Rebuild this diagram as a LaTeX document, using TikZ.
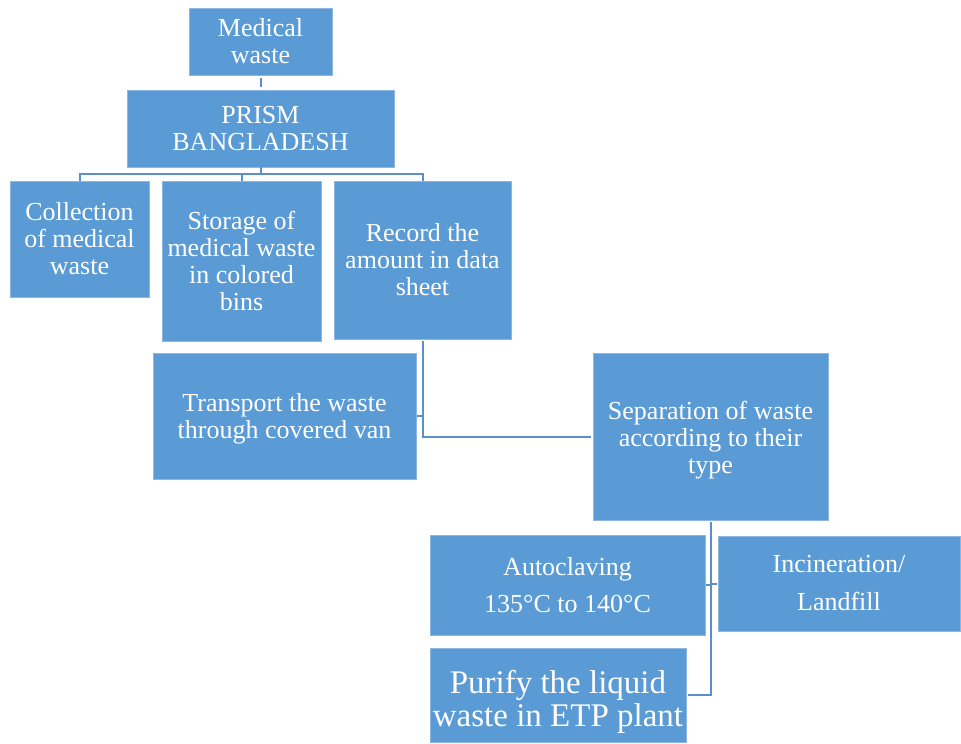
\documentclass[tikz,border=0pt]{standalone}
\usepackage{fontspec}
\setmainfont{Liberation Serif}
\usetikzlibrary{calc}
\definecolor{boxblue}{HTML}{5B9BD5}
\definecolor{boxedge}{HTML}{8DB6E2}
\definecolor{linkblue}{HTML}{5B8FCA}
\tikzset{
  wbox/.style={rectangle, fill=boxblue, draw=boxedge, line width=0.6pt, inner sep=0pt,
    text=white, align=center, font=\fontsize{26}{27}\selectfont},
  wtext/.style={inner sep=0pt, text=white, align=center, font=\fontsize{26}{27}\selectfont},
  link/.style={draw=linkblue, line width=2pt},
}
\begin{document}
\begin{tikzpicture}[x=1pt,y=-1pt]
\useasboundingbox (0,0) rectangle (961,744);
\node[wbox, minimum width=143pt, minimum height=67pt] (mw) at (260.5,41.5) {Medical\\waste};
\node[wbox, minimum width=267pt, minimum height=77pt] (prism) at (260.5,128.5) {PRISM\\BANGLADESH};
\node[wbox, minimum width=139pt, minimum height=116pt] (coll) at (79.5,239) {Collection\\of medical\\waste};
\node[wbox, minimum width=159pt, minimum height=160pt] (stor) at (241.5,261) {Storage of\\medical waste\\in colored\\bins};
\node[wbox, minimum width=177pt, minimum height=158pt] (rec) at (422.5,260) {Record the\\amount in data\\sheet};
\node[wbox, minimum width=263pt, minimum height=126pt,
  label={[wtext, yshift=-3pt]center:{Transport the waste\\through covered van}}] (trans) at (284.5,416) {};
\node[wbox, minimum width=235pt, minimum height=167pt,
  label={[wtext, yshift=-4pt]center:{Separation of waste\\according to their\\type}}] (sep) at (710.5,436.5) {};
\node[wbox, minimum width=275pt, minimum height=100pt] (auto) at (567.5,585) {Autoclaving\\[10pt]135°C to 140°C};
\node[wbox, minimum width=242pt, minimum height=95pt] (inc) at (839,583.5) {Incineration/\\[11pt]Landfill};
\node[wbox, minimum width=256pt, minimum height=94pt,
  label={[wtext, yshift=-7pt, font=\fontsize{33}{33}\selectfont]center:{Purify the liquid\\waste in ETP plant}}] (pur) at (558,695) {};
\coordinate (bus) at (260.5,174);
\draw[link, shorten <=3pt, shorten >=3pt] (mw.south) -- (prism.north);
\draw[link] (prism.south) -- (bus);
\draw[link] (coll.north) |- (bus);
\draw[link] (rec.north) |- (bus);
\draw[link] (stor.north) -- (stor.north |- bus);
\draw[link, shorten <=2pt, shorten >=2pt] (rec.south) |- (sep.west);
\draw[link, shorten <=1pt] (trans.east) -- (trans.east -| rec.south);
\draw[link, shorten <=2pt, shorten >=2pt] (sep.south) |- (pur.east);
\draw[link, shorten <=1pt] (auto.east) -- (auto.east -| sep.south);
\draw[link, shorten <=1pt] (inc.west) -- (inc.west -| sep.south);
\end{tikzpicture}
\end{document}
